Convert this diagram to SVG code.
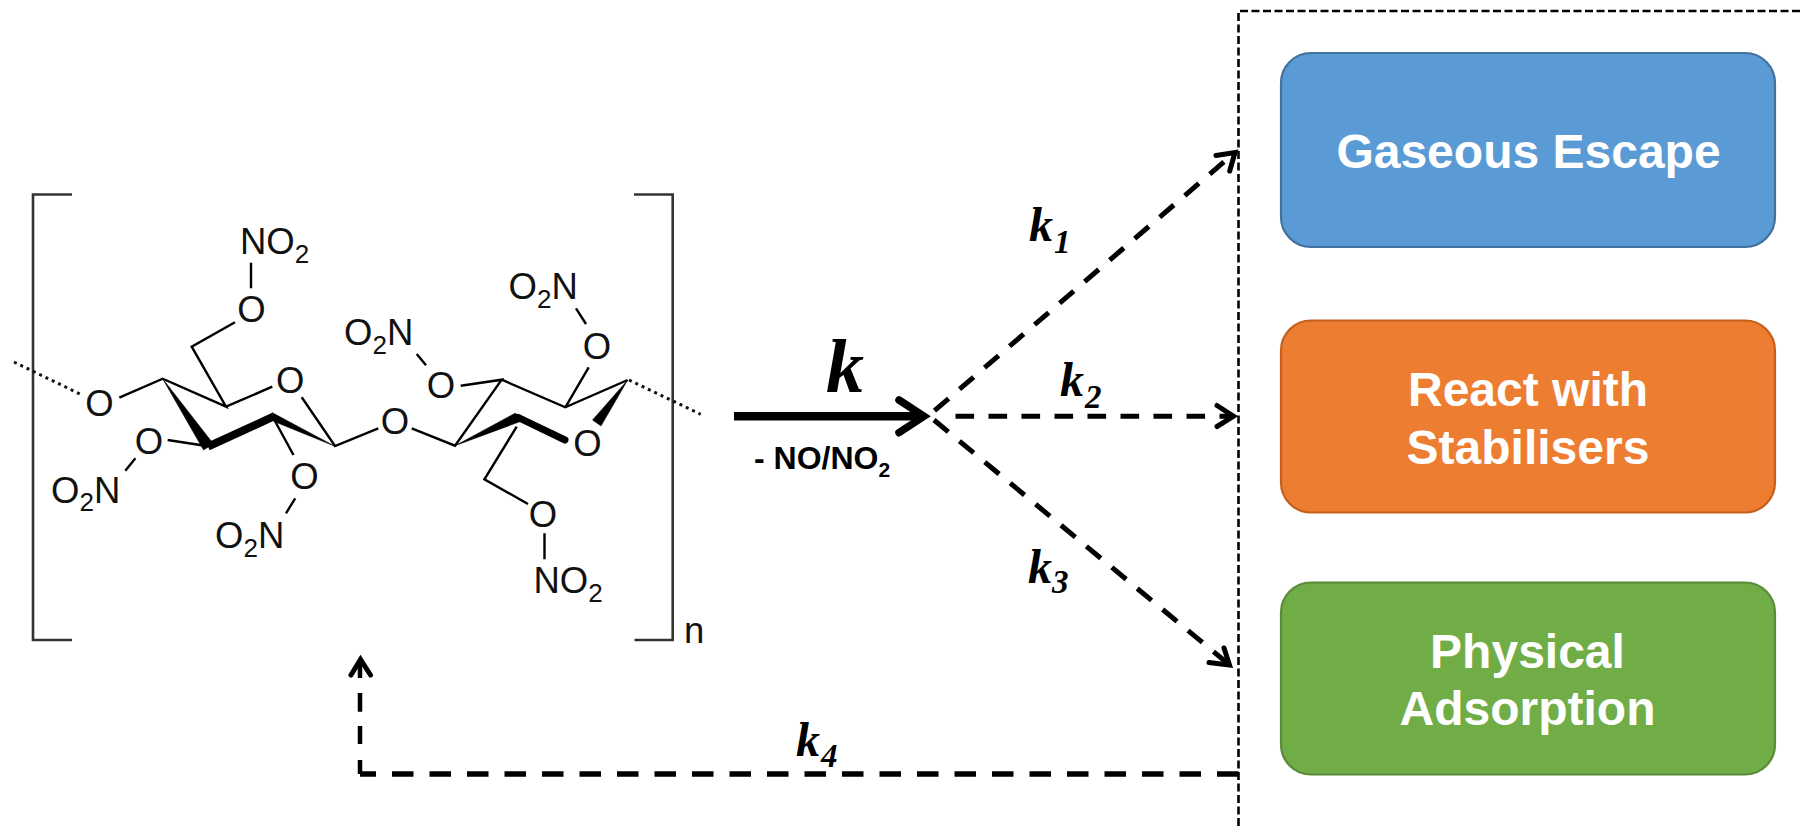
<svg xmlns="http://www.w3.org/2000/svg" width="1800" height="826" viewBox="0 0 1800 826">
<style>
text{font-family:"Liberation Sans",Arial,sans-serif}
.a{font-size:36.5px;fill:#111}
.s{font-size:26px}
.b{fill:none;stroke:#000;stroke-width:2.4}
.br{fill:none;stroke:#333;stroke-width:2.6}
.dot{fill:none;stroke:#111;stroke-width:3;stroke-dasharray:3 4}
.w{fill:#000;stroke:#000;stroke-width:.5}
.d{fill:none;stroke:#000;stroke-width:5;stroke-dasharray:18.6 14.4}
.h{fill:none;stroke:#000;stroke-width:5;stroke-linecap:round;stroke-linejoin:miter}
.k{font-family:"Liberation Serif","Times New Roman",serif;font-weight:bold;font-style:italic;fill:#000;font-size:48px}
.ks{font-family:"Liberation Serif","Times New Roman",serif;font-weight:bold;font-style:italic;fill:#000;font-size:33px}
.t{font-size:48px;font-weight:bold;fill:#fff;text-anchor:middle}
</style>
<g id="molecule">
<path class="br" d="M72 194.5H33V640H72M634 194.5H672.7V640H634.5"/>
<text class="a" x="684" y="643">n</text>
<path class="dot" d="M14 362L82 395M629 380L700.7 414.3"/>
<path class="b" d="M119.3 397.7L162.7 378.7L226 406.7L191.7 346.7L235 322.3M226 406.7L272.3 386.7M301.7 397.3L335 446L378.3 428.3M167.7 440L205 445.7M135.4 458.3L125.3 470.7M273.3 418L293.5 455M295.2 498.3L286 513.3M251 262.7V288.3M411.7 428.3L455 445.7L501.7 379.7L460.7 385.7M426 365.3L416.7 354M501.7 379.7L565.3 407.3L627.7 380M565.3 407.3L588.7 367.3M586 324L576 308.3M516.7 426.7L484.4 479.3L528 504M544.5 533.3V559.3"/>
<polygon class="w" points="162.5,378.5 203.5,450 213.5,444"/>
<path d="M208 446.7L273.3 416.7" fill="none" stroke="#000" stroke-width="8" stroke-linejoin="round"/>
<polygon class="w" points="272,412.5 274,421.5 335,446.3"/>
<polygon class="w" points="455,445.7 515.5,413 520.5,421.5"/>
<path d="M518 417.3L565 440" fill="none" stroke="#000" stroke-width="7" stroke-linecap="round"/>
<polygon class="w" points="627.7,380 592.5,420 601,426"/>
<text class="a" x="99.5" y="416" text-anchor="middle">O</text>
<text class="a" x="251.5" y="322" text-anchor="middle">O</text>
<text class="a" x="290.3" y="393" text-anchor="middle">O</text>
<text class="a" x="149" y="454" text-anchor="middle">O</text>
<text class="a" x="304.4" y="489" text-anchor="middle">O</text>
<text class="a" x="395" y="434" text-anchor="middle">O</text>
<text class="a" x="441" y="397.5" text-anchor="middle">O</text>
<text class="a" x="597" y="358.5" text-anchor="middle">O</text>
<text class="a" x="587.5" y="455.5" text-anchor="middle">O</text>
<text class="a" x="543" y="527" text-anchor="middle">O</text>
<text class="a" x="240" y="254">NO<tspan class="s" dy="8.5">2</tspan></text>
<text class="a" x="533.5" y="593.3">NO<tspan class="s" dy="8.5">2</tspan></text>
<text class="a" x="508.5" y="299.3">O<tspan class="s" dy="8.5">2</tspan><tspan dy="-8.5">N</tspan></text>
<text class="a" x="344" y="345">O<tspan class="s" dy="8.5">2</tspan><tspan dy="-8.5">N</tspan></text>
<text class="a" x="51" y="502.7">O<tspan class="s" dy="8.5">2</tspan><tspan dy="-8.5">N</tspan></text>
<text class="a" x="215" y="548.3">O<tspan class="s" dy="8.5">2</tspan><tspan dy="-8.5">N</tspan></text>
</g>
<g id="container">
<path d="M1800 11H1238.5V826" fill="none" stroke="#000" stroke-width="2.6" stroke-dasharray="8 3.5"/>
</g>
<g id="connectors">
<path d="M734 416.3H918" fill="none" stroke="#000" stroke-width="8.5"/>
<path d="M899 400L924 416.3L899 432.7" fill="none" stroke="#000" stroke-width="7.5" stroke-linecap="round" stroke-linejoin="miter"/>
<path class="d" d="M934.5 410.7L1232 155"/>
<path class="h" d="M1216 155.5L1235 152.5L1229.7 171"/>
<path class="d" d="M955.5 416.3H1232"/>
<path class="h" d="M1217 405.5L1233.5 416.3L1217 426.5"/>
<path class="d" d="M934 420L1226 662"/>
<path class="h" d="M1209 662.5L1229.5 665L1224 648"/>
<path d="M1238.5 774H360" fill="none" stroke="#000" stroke-width="5.5" stroke-dasharray="21.5 16"/>
<path d="M360 774V661" fill="none" stroke="#000" stroke-width="4.5" stroke-dasharray="14 16 18 14.3 18.7 15 18 100"/>
<path class="h" d="M351 675L360.5 659.5L370.5 675"/>
</g>
<g id="labels">
<text class="k" x="826" y="391.5" style="font-size:76px">k</text>
<text class="a" x="754" y="469" style="font-size:32px;font-weight:bold;fill:#000">- NO/NO<tspan dy="7.7" style="font-size:21px">2</tspan></text>
<text class="k" x="1029" y="241">k</text><text class="ks" x="1054" y="252.7">1</text>
<text class="k" x="1060" y="395.7">k</text><text class="ks" x="1085" y="407.7">2</text>
<text class="k" x="1028" y="582.7">k</text><text class="ks" x="1052" y="593">3</text>
<text class="k" x="796" y="756">k</text><text class="ks" x="821" y="766.7">4</text>
</g>
<g id="gaseous-escape">
<rect x="1281" y="53" width="494" height="194" rx="30" fill="#5B9BD5" stroke="#41719C" stroke-width="2.2"/>
<text class="t" x="1528.5" y="168">Gaseous Escape</text>
</g>
<g id="react-with-stabilisers">
<rect x="1281" y="320.5" width="494" height="192" rx="30" fill="#ED7D31" stroke="#C55F1C" stroke-width="2.2"/>
<text class="t" x="1528" y="406">React with</text>
<text class="t" x="1528" y="464">Stabilisers</text>
</g>
<g id="physical-adsorption">
<rect x="1281" y="582.5" width="494" height="192" rx="30" fill="#70AD47" stroke="#5A8A3A" stroke-width="2.2"/>
<text class="t" x="1527.5" y="667.7">Physical</text>
<text class="t" x="1527.5" y="725">Adsorption</text>
</g>
</svg>
